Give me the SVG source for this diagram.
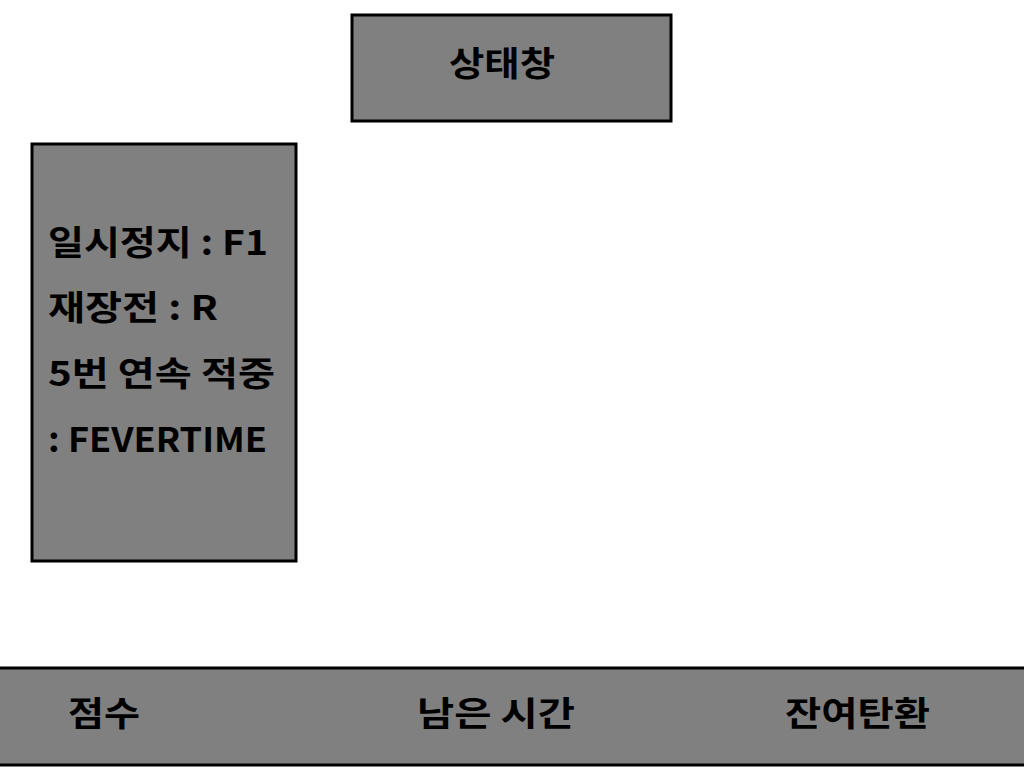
<svg xmlns="http://www.w3.org/2000/svg" width="1024" height="768" viewBox="0 0 1024 768">
<style>
.box{fill:#808080;stroke:#000;stroke-width:3}
.t{font-family:"Noto Sans CJK KR","Noto Sans",sans-serif;font-weight:bold;font-size:34px;fill:#000}
</style>
<rect width="1024" height="768" fill="#fff"/>
<g id="status">
<rect class="box" x="352" y="15" width="319" height="106"/>
<text class="t" x="449" y="76" textLength="106" lengthAdjust="spacingAndGlyphs">상태창</text>
</g>
<g id="help">
<rect class="box" x="32" y="144" width="264" height="417"/>
<text class="t" x="48" y="255" textLength="220" lengthAdjust="spacingAndGlyphs">일시정지 : F1</text>
<text class="t" x="48" y="320" textLength="170" lengthAdjust="spacingAndGlyphs">재장전 : R</text>
<text class="t" x="48" y="386" textLength="227" lengthAdjust="spacingAndGlyphs">5번 연속 적중</text>
<text class="t" x="48" y="452" textLength="219" lengthAdjust="spacingAndGlyphs">: FEVERTIME</text>
</g>
<g id="bottom">
<rect class="box" x="-2" y="668" width="1028" height="97"/>
<text class="t" x="68" y="726" textLength="72" lengthAdjust="spacingAndGlyphs">점수</text>
<text class="t" x="417" y="726" textLength="158" lengthAdjust="spacingAndGlyphs">남은 시간</text>
<text class="t" x="785" y="726" textLength="145" lengthAdjust="spacingAndGlyphs">잔여탄환</text>
</g>
<g id="connectors"></g>
</svg>
